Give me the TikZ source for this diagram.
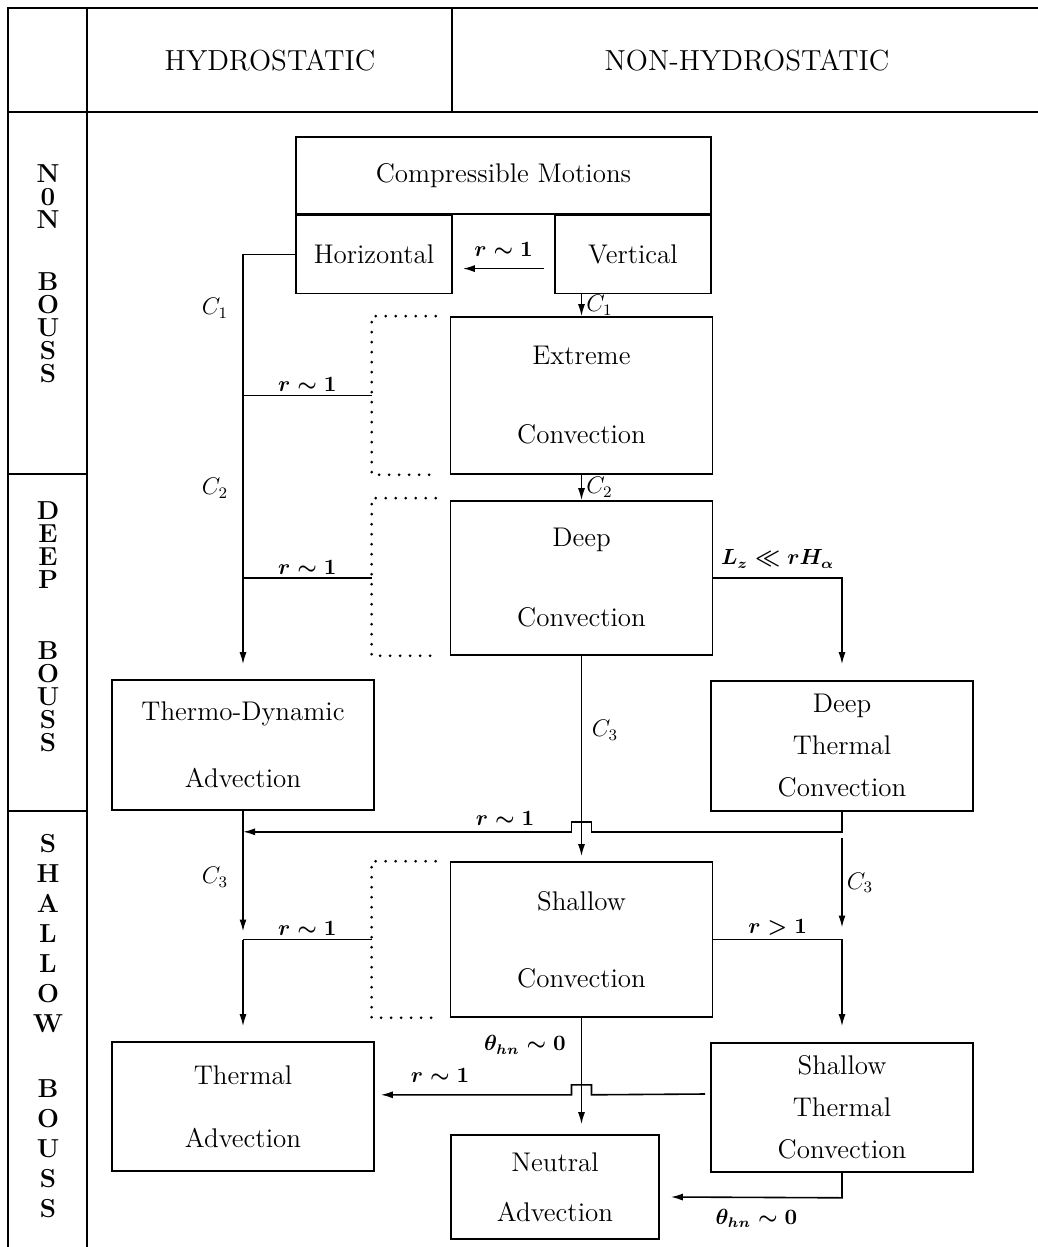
\documentclass[tikz,border=0pt]{standalone}
\usepackage{tikz}
\usetikzlibrary{positioning}
\usetikzlibrary{calc}
\usetikzlibrary{arrows.meta}
\tikzstyle{procbox} = [
	draw,
	line width=0.8pt,
	align=center,
	font=\fontsize{13.5}{21}\selectfont,
	minimum width=131pt,
	inner sep=2pt
]
\tikzstyle{headtext} = [
	font=\fontsize{14.5}{17}\selectfont
]
\tikzstyle{rowlabel} = [
	align=center,
	inner sep=0pt
]
\tikzstyle{cond} = [
	font=\fontsize{10.5}{12}\selectfont\boldmath,
	inner sep=1.5pt
]
\tikzstyle{cval} = [
	font=\fontsize{11.5}{13}\selectfont,
	inner sep=2pt
]
\tikzstyle{flow} = [
	line width=0.8pt,
	-{Latex[length=6pt,width=3.5pt]}
]
\tikzstyle{link} = [
	line width=0.8pt
]
\tikzstyle{bracket} = [
	line width=1.5pt,
	line cap=round,
	dash pattern=on 0pt off 5pt
]
\tikzstyle{frame} = [
	line width=0.9pt
]

\begin{document}
\begin{tikzpicture}[x=0.5pt, y=-0.5pt, node distance=0pt and 0pt]
	\useasboundingbox (0,0) rectangle (1038,1247);

	%
	% Table frame
	\draw[frame] (1038,8) -- (8,8) -- (8,1247);
	\draw[frame] (87,8) -- (87,1247);
	\draw[frame] (8,112) -- (1038,112);
	\draw[frame] (452,8) -- (452,112);
	\draw[frame] (8,474) -- (87,474);
	\draw[frame] (8,811) -- (87,811);

	% Headings
	\node[headtext] (hyd) at (270,60) {HYDROSTATIC};
	\node[headtext] (nonhyd) at (747,60) {NON-HYDROSTATIC};
	\node[rowlabel, font=\fontsize{13}{11.5}\selectfont\bfseries] (nonb) at (48,274) {N\\0\\N\\[19.5pt]B\\O\\U\\S\\S};
	\node[rowlabel, font=\fontsize{13}{11.5}\selectfont\bfseries] (deepb) at (48,627) {D\\E\\E\\P\\[24pt]B\\O\\U\\S\\S};
	\node[rowlabel, font=\fontsize{13}{15}\selectfont\bfseries] (shalb) at (48,1026) {S\\H\\A\\L\\L\\O\\W\\[17.5pt]B\\O\\U\\S\\S};

	% Motion classes
	\node[procbox, minimum width=207.5pt, minimum height=38.5pt] (comp) at (503.5,175.5) {Compressible Motions};
	\node[procbox, minimum width=78pt, minimum height=39pt, below right=of comp.south west] (horiz) {Horizontal};
	\node[procbox, minimum width=78pt, minimum height=39pt, below left=of comp.south east] (vert) {Vertical};
	\node[procbox, minimum height=78.5pt] (extreme) at (581.5,395.5) {Extreme\\[18.5pt]Convection};
	\node[procbox, minimum height=77pt] (deep) at (581.5,578) {Deep\\[19pt]Convection};
	\node[procbox, minimum height=65pt] (thermo) at (243,745) {Thermo-Dynamic\\[12.5pt]Advection};
	\node[procbox, minimum height=65pt] (deepth) at (842,746) {Deep\\Thermal\\Convection};
	\node[procbox, minimum height=77.5pt] (shallow) at (581.5,939.5) {Shallow\\[17.5pt]Convection};
	\node[procbox, minimum height=64.5pt] (thermal) at (243,1106.5) {Thermal\\[10.5pt]Advection};
	\node[procbox, minimum height=64.5pt] (shallowth) at (842,1107.5) {Shallow\\Thermal\\Convection};
	\node[procbox, minimum width=104pt, minimum height=52pt] (neutral) at (555,1187) {Neutral\\[4pt]Advection};

	% Dotted brackets
	\draw[bracket] ($(extreme.north west)+(-14,0)$) -- ++(-64,0) |- ($(extreme.south west)+(-14,0)$);
	\draw[bracket] ($(deep.north west)+(-14,-2)$) -- ++(-64,0) |- ($(deep.south west)+(-14,0)$);
	\draw[bracket] ($(shallow.north west)+(-14,0)$) -- ++(-64,0) |- ($(shallow.south west)+(-14,0)$);
	\coordinate (dotA) at ($(extreme.west)+(-78,0)$);
	\coordinate (dotB) at ($(deep.west)+(-78,0)$);
	\coordinate (dotC) at ($(shallow.west)+(-78,0)$);
	\coordinate (crossA) at ($(deep.south)+(0,176)$);
	\coordinate (crossB) at ($(shallow.south)+(0,77)$);

	% Hydrostatic branch
	\draw[flow] ($(vert.west)+(-10,14)$) -- node[cond, above=4pt] (rA) {$r\sim1$} ($(horiz.east)+(10,14)$);
	\draw[flow] (horiz.west) -| ($(thermo.north)+(0,-15)$);
	\node[cval] (cA) at (215,308) {$C_1$};
	\node[cval] (cB) at (215,488) {$C_2$};
	\draw[link] (thermo.north |- dotA) -- node[cond, above] (rB) {$r\sim1$} (dotA);
	\draw[link] (thermo.north |- dotB) -- node[cond, above] (rC) {$r\sim1$} (dotB);
	\draw[flow] (thermo.south) -- ($(thermo.south |- dotC)+(0,-8)$);
	\node[cval] (cF) at (215,877) {$C_3$};
	\draw[link] (thermo.south |- dotC) -- node[cond, above] (rF) {$r\sim1$} (dotC);
	\draw[flow] (thermo.south |- dotC) -- ($(thermal.north)+(0,-15)$);

	% Non-hydrostatic branch
	\draw[flow] (extreme.north |- vert.south) -- node[cval, right] (cC) {$C_1$} (extreme.north);
	\draw[flow] (extreme.south) -- node[cval, right] (cD) {$C_2$} (deep.north);
	\draw[flow] (deep.east) -| node[cond, pos=0.25, above=3pt] (rD) {$L_z\ll rH_\alpha$} ($(deepth.north)+(0,-16)$);
	\draw[flow] (deep.south) -- ($(shallow.north)+(0,-5)$);
	\node[cval] (cE) at (605,730) {$C_3$};
	\draw[flow] (deepth.south) |- ($(crossA)+(10,0)$) -- ++(0,-10) -- ++(-20,0) -- ++(0,10) -- (crossA -| thermo.north);
	\node[cond] (rE) at (505,818) {$r\sim1$};
	\draw[flow] ($(deepth.south)+(0,26)$) -- node[cval, right] (cG) {$C_3$} ($(deepth.south |- shallow.east)+(0,-12)$);
	\draw[flow] (shallow.east) -| node[cond, pos=0.25, above] (rG) {$r>1$} ($(shallowth.north)+(0,-16)$);
	\draw[flow] (shallow.south) -- ($(shallow.south |- neutral.north)+(0,-10)$);
	\node[cond] (tA) at (525,1045) {$\theta_{hn}\sim0$};
	\draw[flow] ($(shallowth.west)+(-5,-13.5)$) -- ($(crossB)+(10,0)$) -- ++(0,-10) -- ++(-20,0) -- ++(0,10) -- ($(thermal.east |- crossB)+(6,0)$);
	\node[cond] (rH) at (440,1075) {$r\sim1$};
	\draw[flow] (shallowth.south) -- ++(0,25) -- node[cond, below=4pt] (tB) {$\theta_{hn}\sim0$} ($(neutral.east)+(11,10)$);

\end{tikzpicture}
\end{document}
